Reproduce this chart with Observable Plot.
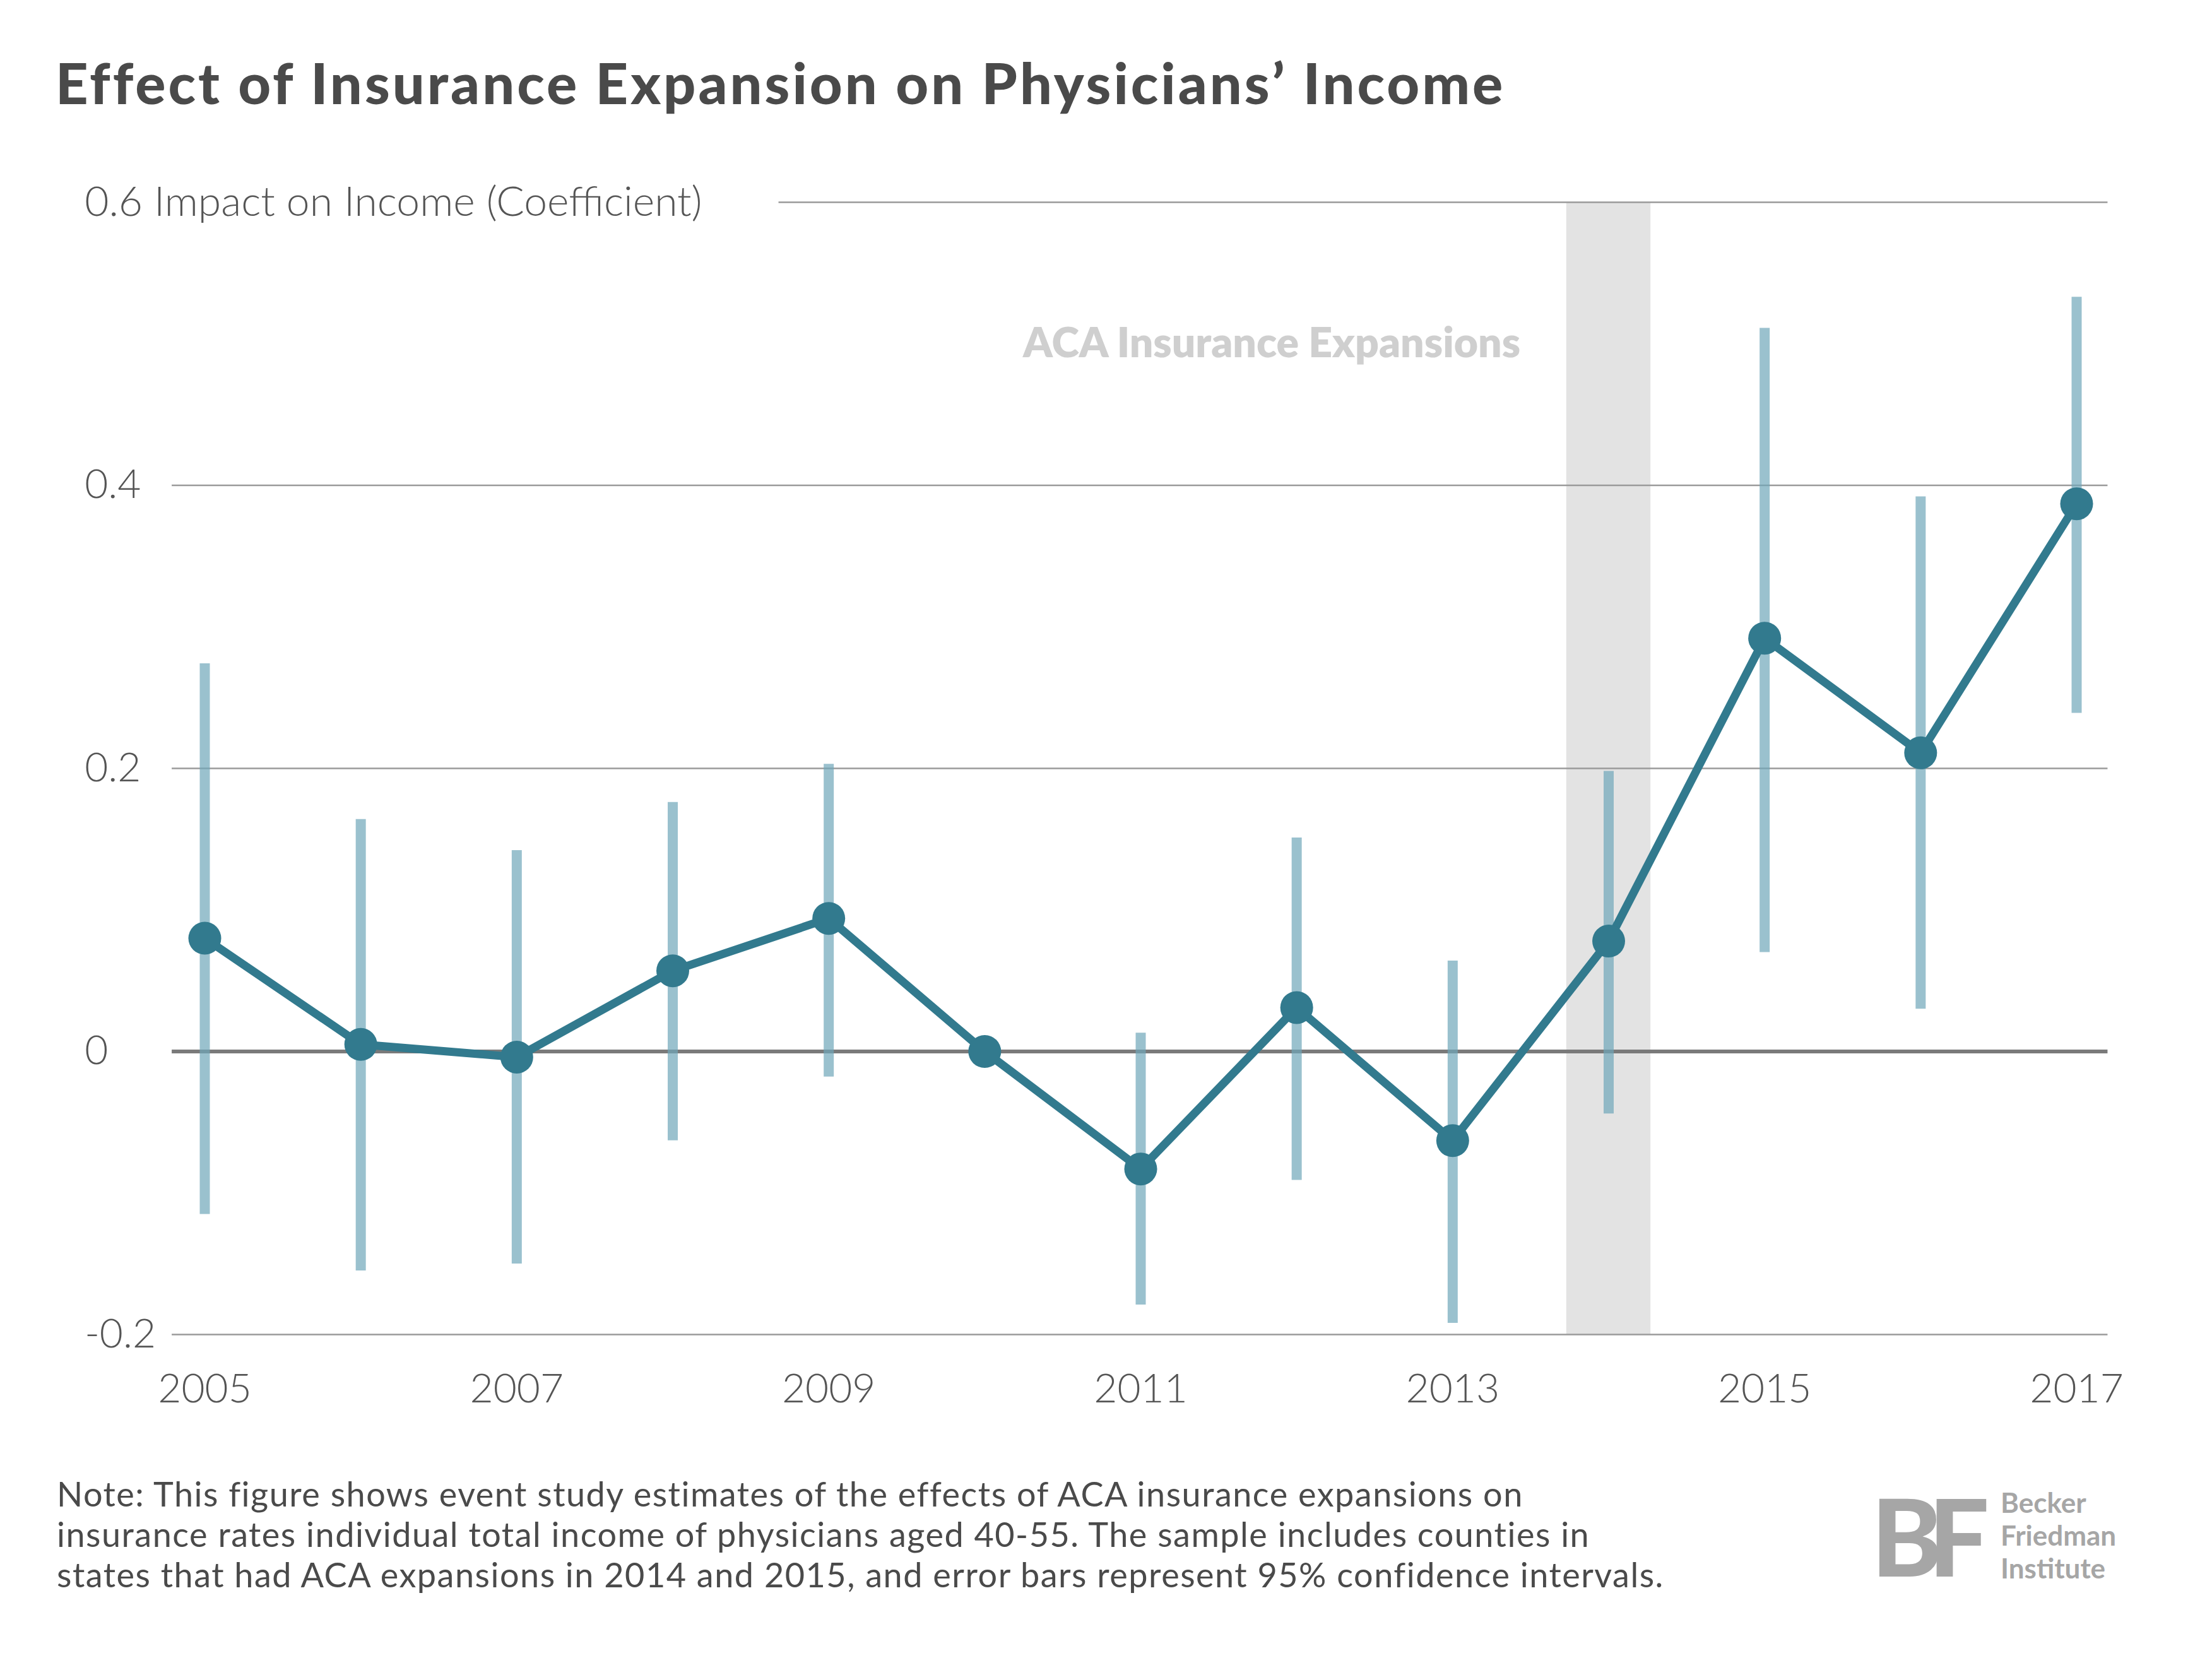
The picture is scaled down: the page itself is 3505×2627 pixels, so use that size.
<!DOCTYPE html>
<html><head><meta charset="utf-8">
<script src="https://cdn.jsdelivr.net/npm/d3@7"></script>
<script src="https://cdn.jsdelivr.net/npm/@observablehq/plot@0.6"></script>
<style>
body{margin:0;background:#fff;font-family:Lato,"Open Sans",sans-serif;}
#wrap{position:relative;width:3505px;height:2627px;overflow:hidden;}
#title{position:absolute;left:88px;top:76px;font-size:90px;font-weight:900;color:#4a4a4a;letter-spacing:4px;}
#note{position:absolute;left:90px;top:2335px;font-size:54px;line-height:64px;color:#4a4a4a;white-space:nowrap;letter-spacing:1.5px;}
#logo{position:absolute;left:2965px;top:2330px;display:flex;align-items:center;}
#bf{font-size:170px;font-weight:900;color:#a6a6a6;letter-spacing:-22px;margin-right:40px;}
#bft{font-size:44px;line-height:52px;font-weight:700;color:#a6a6a6;}
#chart{position:absolute;left:0;top:0;}
</style></head><body>
<div id="wrap">
<div id="chart"></div>
<div id="title">Effect of Insurance Expansion on Physicians’ Income</div>
<div id="note">Note: This figure shows event study estimates of the effects of ACA insurance expansions on<br>insurance rates individual total income of physicians aged 40-55. The sample includes counties in<br>states that had ACA expansions in 2014 and 2015, and error bars represent 95% confidence intervals.</div>
<div id="logo"><div id="bf">BF</div><div id="bft">Becker<br>Friedman<br>Institute</div></div>
</div>
<script>
const years = [2005,2006,2007,2008,2009,2010,2011,2012,2013,2014,2015,2016,2017];
const coef  = [0.080,0.005,-0.004,0.057,0.094,0,-0.083,0.031,-0.063,0.078,0.292,0.211,0.387];
const upper = [0.274,0.164,0.142,0.176,0.203,null,0.013,0.151,0.064,0.198,0.511,0.392,0.533];
const lower = [-0.115,-0.155,-0.150,-0.063,-0.018,null,-0.179,-0.091,-0.192,-0.044,0.070,0.030,0.239];
const yTicks = [0.4,0.2,0,-0.2];
const yTickLabels = ["0.4","0.2","0","-0.2"];
const xTicks = [2005,2007,2009,2011,2013,2015,2017];
const bandStart = 2013.73, bandEnd = 2014.27;

const data = years.map((y,i)=>({year:y,coef:coef[i],lo:lower[i],hi:upper[i]}));
const bars = data.filter(d=>d.hi!=null);
const grid = [0.4,0.2,-0.2];

const plot = Plot.plot({
  width:3505, height:2627,
  marginLeft:324, marginRight:215, marginTop:320, marginBottom:513,
  x:{domain:[2005,2017], axis:null},
  y:{domain:[-0.2,0.6], axis:null},
  style:{fontFamily:"Lato, 'Open Sans', sans-serif"},
  marks:[
    Plot.rect([{a:bandStart,b:bandEnd}],{x1:"a",x2:"b",y1:-0.2,y2:0.6,fill:"#e3e3e3"}),
    Plot.ruleY(grid,{y:d=>d,x1:2004.79,x2:2017.2,stroke:"#9a9a9a",strokeWidth:2.5}),
    Plot.ruleY([0.6],{y:d=>d,x1:2008.68,x2:2017.2,stroke:"#9a9a9a",strokeWidth:2.5}),
    Plot.ruleY([0],{y:d=>d,x1:2004.79,x2:2017.2,stroke:"#7a7a7a",strokeWidth:6}),
    Plot.text(["ACA Insurance Expansions"],{x:2011.84,y:0.50,text:d=>d,fill:"#cfcfcf",fontSize:66,fontWeight:800,textAnchor:"middle"}),
    Plot.ruleX(bars,{x:"year",y1:"lo",y2:"hi",stroke:"#6fa6b9",strokeOpacity:0.7,strokeWidth:16}),
    Plot.line(data,{x:"year",y:"coef",stroke:"#327a8e",strokeWidth:13}),
    Plot.dot(data,{x:"year",y:"coef",r:26,fill:"#327a8e"}),
    Plot.text(yTicks,{x:2004.23,y:d=>d,text:(d,i)=>yTickLabels[i],textAnchor:"start",fontSize:64,fill:"#555",fontWeight:300,letterSpacing:2}),
    Plot.text(["0.6 Impact on Income (Coefficient)"],{x:2004.23,y:0.6,text:d=>d,textAnchor:"start",fontSize:66,fill:"#555",fontWeight:300,letterSpacing:5}),
    Plot.text(xTicks,{x:d=>d,y:-0.239,text:d=>String(d),fontSize:64,fill:"#555",fontWeight:300,letterSpacing:2})
  ]
});
document.getElementById("chart").appendChild(plot);
</script>
</body></html>
